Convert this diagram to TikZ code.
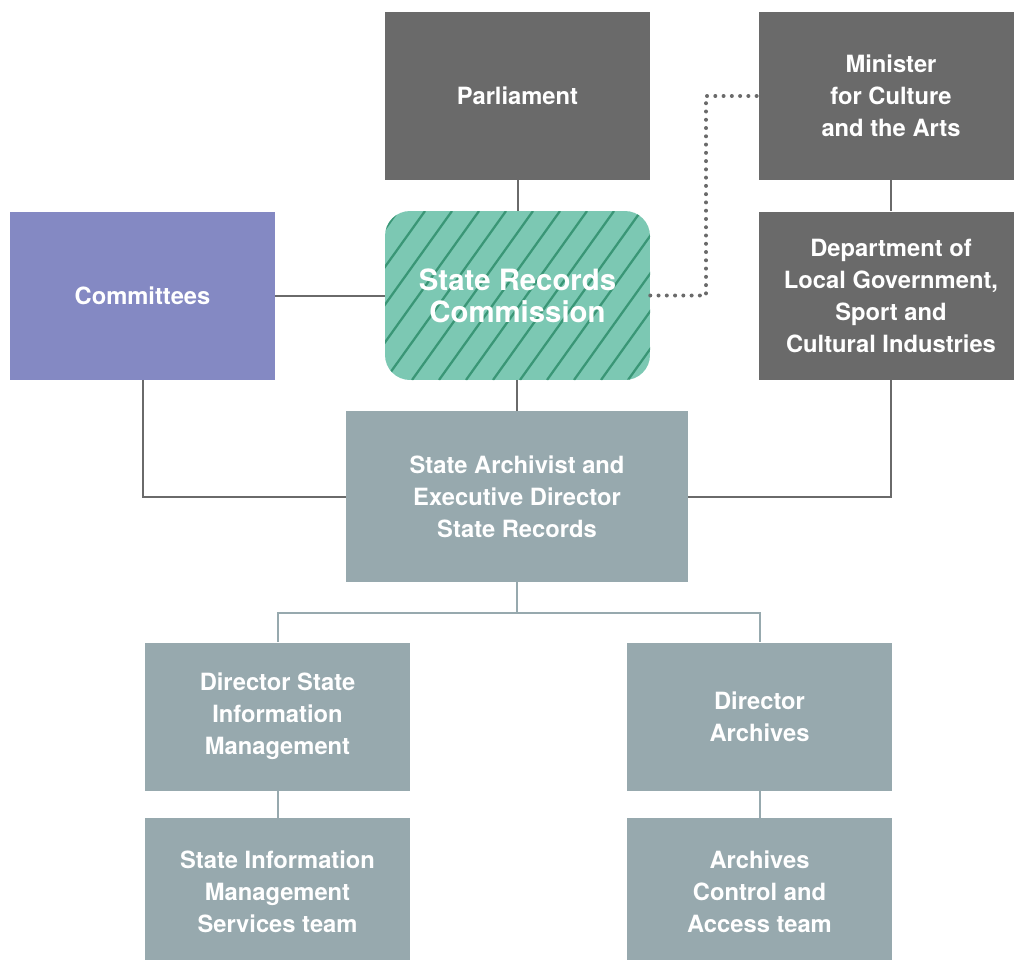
\documentclass[tikz,border=0pt]{standalone}
\usepackage{fontspec}
\setmainfont{TeX Gyre Heros}
\usetikzlibrary{calc}
\definecolor{darkbox}{HTML}{6A6A6A}
\definecolor{purplebox}{HTML}{8489C3}
\definecolor{tealbox}{HTML}{7CC8B3}
\definecolor{tealhatch}{HTML}{3A9676}
\definecolor{slatebox}{HTML}{97A9AE}
\begin{document}
\begin{tikzpicture}[x=0.75pt,y=-0.75pt,
  box/.style={rectangle, inner sep=0pt, align=center, text=white,
    font=\fontsize{17.8}{24}\selectfont\bfseries,
    minimum width=198.75pt, minimum height=126pt},
  darkbx/.style={box, fill=darkbox},
  slatebx/.style={box, fill=slatebox},
  lowbx/.style={slatebx, minimum height=111pt},
  darkline/.style={draw=darkbox, line width=1.5pt},
  lightline/.style={draw=slatebox, line width=1.5pt},
  dotline/.style={draw=darkbox, line width=3pt, line cap=round,
    dash pattern=on 0pt off 6.2pt}]
\useasboundingbox (0,0) rectangle (1014,960);

% upper row
\node[darkbx] (parl) at (517.5,96) {Parliament};
\node[darkbx, minimum width=198pt] (minister) at (891,96) {Minister\\for Culture\\and the Arts};
\node[darkbx, minimum width=198pt] (dept) at (891,295.5)
  {Department of\\Local Government,\\Sport and\\Cultural Industries};
\node[box, fill=purplebox] (comm) at (142.5,295.5) {Committees};

% commission box with diagonal hatching
\node[box, minimum width=198.75pt, minimum height=126.75pt] (src) at (517.5,295.5) {};
\begin{scope}
  \path[clip, rounded corners=18.75pt] (385,211) rectangle (650,380);
  \fill[tealbox] (385,211) rectangle (650,380);
  \foreach \i in {-6,...,12}
    \draw[tealhatch, line width=1.7pt] (385+\i*27,380) -- (385+\i*27+121,211);
\end{scope}
\node[text=white, align=center, font=\fontsize{22}{24}\selectfont\bfseries]
  at (src.center) {State Records\\Commission};

% management
\node[slatebx, minimum width=256.5pt, minimum height=128.25pt] (archivist) at (517,496.5)
  {State Archivist and\\Executive Director\\State Records};
\node[lowbx] (dirsim) at (277.5,716.5) {Director State\\Information\\Management};
\node[lowbx] (dirarch) at (759.5,716.5) {Director\\Archives};
\node[lowbx] (simteam) at (277.5,892) {State Information\\Management\\Services team};
\node[lowbx] (arcteam) at (759.5,892) {Archives\\Control and\\Access team};

\coordinate (dotx) at (706,0);
\coordinate (split) at (517,613);

% reporting lines
\draw[darkline] (parl.south) -- (src.north);
\draw[darkline] (comm.east) -- (src.west);
\draw[darkline] (src.south -| archivist.north) -- (archivist.north);
\draw[darkline] (minister.south) -- (dept.north);
\draw[darkline] (comm.south) |- (archivist.west);
\draw[darkline] (dept.south) |- (archivist.east);
\draw[dotline] (src.east) -- (src.east -| dotx) |- (minister.west);

\draw[lightline] (archivist.south) -- (split);
\draw[lightline] (dirsim.north) |- (split) -| (dirarch.north);
\draw[lightline] (dirsim.south) -- (simteam.north);
\draw[lightline] (dirarch.south) -- (arcteam.north);
\end{tikzpicture}
\end{document}
